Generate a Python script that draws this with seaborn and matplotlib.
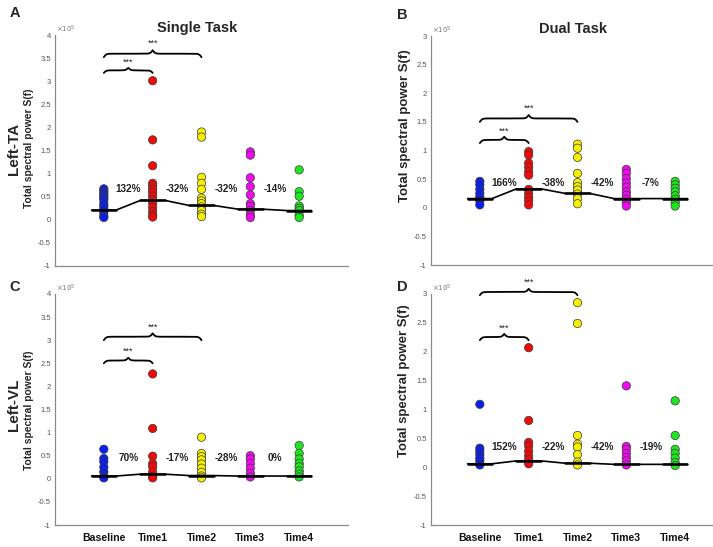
import numpy as np
import pandas as pd
import matplotlib
matplotlib.use("Agg")
import matplotlib.pyplot as plt
import seaborn as sns
from matplotlib.ticker import FuncFormatter

# ---------------- data (values in units of 10^5) ----------------
categories = ["Baseline", "Time1", "Time2", "Time3", "Time4"]
colors = ["#0a1ef0", "#f00a0a", "#f5f000", "#f00af0", "#1ee61e"]

a_vals = [
    [0.67, 0.63, 0.59, 0.55, 0.51, 0.47, 0.43, 0.35, 0.30, 0.24, 0.15, 0.08, 0.05],
    [3.01, 1.73, 1.17, 0.79, 0.73, 0.66, 0.59, 0.51, 0.43, 0.36, 0.27, 0.18, 0.10, 0.06],
    [1.90, 1.79, 0.92, 0.79, 0.66, 0.47, 0.41, 0.35, 0.28, 0.20, 0.12, 0.07],
    [1.47, 1.40, 0.91, 0.72, 0.54, 0.35, 0.29, 0.20, 0.10, 0.05],
    [1.08, 0.61, 0.51, 0.30, 0.25, 0.20, 0.10, 0.05],
]
a_med = [0.21, 0.42, 0.31, 0.23, 0.20]
a_pct = ["132%", "-32%", "-32%", "-14%"]

b_vals = [
    [0.46, 0.40, 0.32, 0.25, 0.19, 0.12, 0.05],
    [0.98, 0.92, 0.78, 0.71, 0.63, 0.57, 0.32, 0.25, 0.18, 0.12, 0.05],
    [1.11, 1.04, 0.88, 0.60, 0.44, 0.37, 0.31, 0.24, 0.16, 0.07],
    [0.67, 0.60, 0.51, 0.43, 0.36, 0.28, 0.22, 0.15, 0.09, 0.03],
    [0.46, 0.40, 0.34, 0.28, 0.21, 0.15, 0.09, 0.03],
]
b_med = [0.16, 0.33, 0.25, 0.16, 0.16]
b_pct = ["166%", "-38%", "-42%", "-7%"]

c_vals = [
    [0.64, 0.44, 0.37, 0.25, 0.15, 0.06, 0.02],
    [2.27, 1.09, 0.49, 0.33, 0.26, 0.15, 0.05, 0.02],
    [0.90, 0.55, 0.48, 0.41, 0.32, 0.23, 0.14, 0.06, 0.02],
    [0.50, 0.43, 0.33, 0.23, 0.12, 0.04],
    [0.72, 0.55, 0.43, 0.33, 0.26, 0.17, 0.10, 0.04],
]
c_med = [0.06, 0.10, 0.07, 0.06, 0.06]
c_pct = ["70%", "-17%", "-28%", "0%"]

d_vals = [
    [1.09, 0.33, 0.28, 0.22, 0.16, 0.11, 0.04],
    [2.07, 0.81, 0.43, 0.37, 0.28, 0.20, 0.13, 0.06],
    [2.85, 2.49, 0.55, 0.40, 0.35, 0.22, 0.09, 0.04],
    [1.41, 0.36, 0.31, 0.24, 0.17, 0.11, 0.04],
    [1.15, 0.55, 0.31, 0.24, 0.16, 0.08, 0.03],
]
d_med = [0.06, 0.11, 0.07, 0.05, 0.05]
d_pct = ["152%", "-22%", "-42%", "-19%"]

# brace annotations: (start idx, end idx, base y, height, star y)
a_braces = [(0, 1, 3.18, 0.11, 3.40), (0, 2, 3.52, 0.15, 3.83)]
b_braces = [(0, 1, 1.13, 0.11, 1.33), (0, 2, 1.50, 0.12, 1.74)]
c_braces = [(0, 1, 2.50, 0.12, 2.77), (0, 2, 3.00, 0.15, 3.28)]
d_braces = [(0, 1, 2.20, 0.11, 2.41), (0, 2, 2.98, 0.11, 3.21)]

# ---------------- style ----------------
sns.set_style("white")
plt.rcParams["font.family"] = ["Liberation Sans", "DejaVu Sans"]

W, H = 713, 547
fig = plt.figure(figsize=(W / 100, H / 100), dpi=100)


def px_axes(left, top, right, bottom):
    return fig.add_axes([left / W, 1 - bottom / H, (right - left) / W, (bottom - top) / H])


def brace(ax, x0, x1, base, h, ystar, s=0.025):
    xm = (x0 + x1) / 2
    sig = lambda z: 1 / (1 + np.exp(-z))
    xl = np.linspace(x0, xm, 300)
    yl = base + h * (sig((xl - x0) / s) - 0.5 + sig((xl - xm) / s))
    xr = 2 * xm - xl[::-1]
    yr = yl[::-1]
    ax.plot(np.concatenate([xl, xr]), np.concatenate([yl, yr]), color="black", lw=1.3,
            solid_capstyle="round", zorder=5, clip_on=False)
    ax.text(xm, ystar, "***", ha="center", va="center", fontsize=6.5, color="#222222",
            clip_on=False)


def panel(ax, vals, med, pct, braces, ymax, pct_y, show_x):
    rows = [(categories[i], v) for i in range(5) for v in vals[i]]
    df = pd.DataFrame(rows, columns=["time", "value"])
    sns.stripplot(data=df, x="time", y="value", hue="time", order=categories,
                  hue_order=categories, palette=colors, jitter=False, size=6,
                  linewidth=0.5, edgecolor="#3a3a3a", legend=False, ax=ax, zorder=3)
    # median polyline with flat segments
    xs, ys = [], []
    for i, m in enumerate(med):
        xs += [i - 0.25, i + 0.25]
        ys += [m, m]
    ax.plot(xs, ys, color="black", lw=1.2, zorder=4)
    for i, m in enumerate(med):
        ax.plot([i - 0.25, i + 0.25], [m, m], color="black", lw=1.8, zorder=4)
    for i, t in enumerate(pct):
        ax.text(i + 0.5, pct_y, t, ha="center", va="center", fontsize=7.2,
                fontweight="bold", color="#222222", zorder=6)
    for b in braces:
        brace(ax, *b)
    ax.set_xlim(-1, 5)
    ax.set_ylim(-1, ymax)
    ax.set_yticks(np.arange(-1, ymax + 0.01, 0.5))
    ax.yaxis.set_major_formatter(FuncFormatter(lambda v, p: f"{v:g}"))
    ax.set_xticks(range(5))
    if show_x:
        ax.set_xticklabels(categories, fontsize=7.6, fontweight="bold", color="#111111")
    else:
        ax.set_xticklabels([])
    ax.set_xlabel("")
    ax.set_ylabel("")
    for side in ["top", "right"]:
        ax.spines[side].set_visible(False)
    for side in ["left", "bottom"]:
        ax.spines[side].set_color("#8a8a8a")
        ax.spines[side].set_linewidth(0.9)
    ax.tick_params(axis="y", direction="in", length=2, width=0.6, color="#8a8a8a",
                   labelsize=5.5, labelcolor="#555555", pad=3)
    ax.tick_params(axis="x", direction="in", length=2, width=0.6, color="#8a8a8a", pad=6)
    ax.text(0.005, 1.0, r"$\times10^5$", transform=ax.transAxes, fontsize=5,
            color="#777777", ha="left", va="bottom")
    ax.patch.set_alpha(0)


axA = px_axes(55, 35, 348, 266)
axB = px_axes(431, 36, 724, 265)
axC = px_axes(55, 294, 348, 525)
axD = px_axes(431, 294, 724, 525)

panel(axA, a_vals, a_med, a_pct, a_braces, 4, 0.66, False)
panel(axB, b_vals, b_med, b_pct, b_braces, 3, 0.44, False)
panel(axC, c_vals, c_med, c_pct, c_braces, 4, 0.44, True)
panel(axD, d_vals, d_med, d_pct, d_braces, 3, 0.35, True)

# titles
fig.text(197 / W, 1 - 28 / H, "Single Task", ha="center", va="center",
         fontsize=10.5, fontweight="bold")
fig.text(573 / W, 1 - 29 / H, "Dual Task", ha="center", va="center",
         fontsize=10.5, fontweight="bold")

# panel letters
for lab, x, y in [("A", 15, 13), ("B", 402, 15), ("C", 15, 287), ("D", 402, 287)]:
    fig.text(x / W, 1 - y / H, lab, ha="center", va="center", fontsize=10.5,
             fontweight="bold")

# row labels
fig.text(14 / W, 1 - 149 / H, "Left-TA", rotation=90, ha="center", va="center",
         fontsize=11, fontweight="bold")
fig.text(14 / W, 1 - 405 / H, "Left-VL", rotation=90, ha="center", va="center",
         fontsize=11, fontweight="bold")

# y labels
ylab = "Total spectral power S(f)"
fig.text(29 / W, 1 - 148 / H, ylab, rotation=90, ha="center", va="center",
         fontsize=7.4, fontweight="bold")
fig.text(29 / W, 1 - 410 / H, ylab, rotation=90, ha="center", va="center",
         fontsize=7.4, fontweight="bold")
fig.text(405 / W, 1 - 126 / H, ylab, rotation=90, ha="center", va="center",
         fontsize=9.5, fontweight="bold")
fig.text(404 / W, 1 - 381 / H, ylab, rotation=90, ha="center", va="center",
         fontsize=9.5, fontweight="bold")

fig.savefig("out.png", dpi=100)
